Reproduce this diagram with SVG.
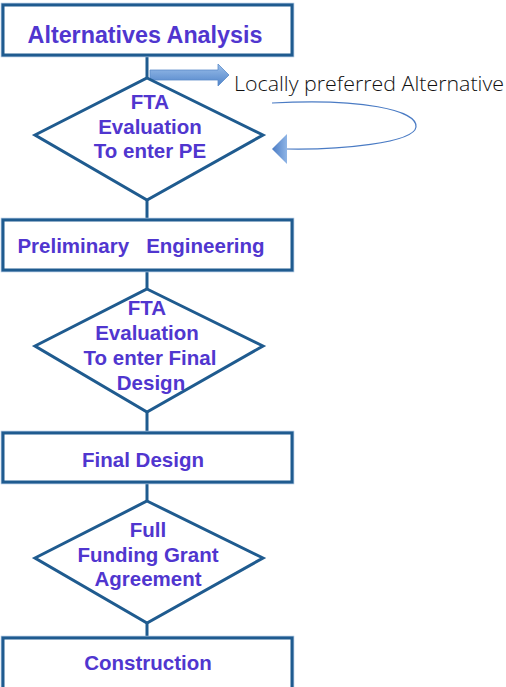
<svg xmlns="http://www.w3.org/2000/svg" width="506" height="687" viewBox="0 0 506 687">
  <defs>
    <style>
      .box { fill: #ffffff; stroke: #1f5b8f; stroke-width: 3; }
      .box-glow { fill: none; stroke: #a9c3de; stroke-width: 1.5; }
      .dia { fill: #ffffff; stroke: #1f5b8f; stroke-width: 3; stroke-linejoin: miter; }
      .link { stroke: #1f5b8f; stroke-width: 3; fill: none; }
      .lbl { font-family: "Liberation Sans", Arial, sans-serif; font-weight: bold; font-size: 20.5px; fill: #5036cf; text-anchor: middle; white-space: pre; }
      .note { font-family: "Open Sans", "DejaVu Sans", sans-serif; font-weight: 300; font-size: 20px; fill: #111111; }
    </style>
    <linearGradient id="arrowFill" x1="0" y1="0" x2="0" y2="1">
      <stop offset="0" stop-color="#9cc0ea"/>
      <stop offset="1" stop-color="#4f83c9"/>
    </linearGradient>
    <linearGradient id="headFill" x1="0" y1="0" x2="1" y2="0">
      <stop offset="0" stop-color="#4a7bc4"/>
      <stop offset="1" stop-color="#8fb5e6"/>
    </linearGradient>
  </defs>

  <!-- connectors -->
  <g id="connectors">
    <line class="link" x1="147" y1="55" x2="147" y2="78"/>
    <line class="link" x1="147" y1="200" x2="147" y2="221"/>
    <line class="link" x1="147" y1="270" x2="147" y2="289"/>
    <line class="link" x1="147" y1="412" x2="147" y2="433"/>
    <line class="link" x1="147" y1="482" x2="147" y2="501"/>
    <line class="link" x1="147" y1="623" x2="147" y2="638"/>
    <!-- block arrow toward the side note -->
    <path d="M150,70 L218,70 L218,64 L229,75 L218,86 L218,80 L150,80 Z" fill="url(#arrowFill)" stroke="#5b8cc9" stroke-width="0.8"/>
    <!-- return loop -->
    <path d="M272,103 C360,98 418,110 416,127 C414,143 340,150 286,149" fill="none" stroke="#4a7bc4" stroke-width="1.2"/>
    <path d="M272,149 L287,134 L287,164 Z" fill="url(#headFill)"/>
  </g>

  <text class="note" x="234" y="91" textLength="270" lengthAdjust="spacingAndGlyphs">Locally preferred Alternative</text>

  <g id="alternatives-analysis">
    <rect class="box-glow" x="1.5" y="3.5" width="292" height="53"/>
    <rect class="box" x="3" y="5" width="289" height="50"/>
    <text class="lbl" x="145" y="43" style="font-size:23.3px">Alternatives Analysis</text>
  </g>

  <g id="fta-eval-pe">
    <polygon class="dia" points="147,78 263,135 147,200 35,135"/>
    <text class="lbl" x="150" y="109">FTA</text>
    <text class="lbl" x="150" y="133.5">Evaluation</text>
    <text class="lbl" x="150" y="158">To enter PE</text>
  </g>

  <g id="preliminary-engineering">
    <rect class="box-glow" x="1.5" y="218.5" width="292" height="53"/>
    <rect class="box" x="3" y="220" width="289" height="50"/>
    <text class="lbl" x="141" y="253">Preliminary   Engineering</text>
  </g>

  <g id="fta-eval-fd">
    <polygon class="dia" points="147,289 263,346 147,412 35,346"/>
    <text class="lbl" x="147" y="315">FTA</text>
    <text class="lbl" x="147" y="340">Evaluation</text>
    <text class="lbl" x="150" y="365">To enter Final</text>
    <text class="lbl" x="151" y="390">Design</text>
  </g>

  <g id="final-design">
    <rect class="box-glow" x="1.5" y="431.5" width="292" height="52"/>
    <rect class="box" x="3" y="433" width="289" height="49"/>
    <text class="lbl" x="143" y="467">Final Design</text>
  </g>

  <g id="ffga">
    <polygon class="dia" points="147,501 263,558 147,623 35,558"/>
    <text class="lbl" x="148" y="537">Full</text>
    <text class="lbl" x="148" y="561.5">Funding Grant</text>
    <text class="lbl" x="148" y="586">Agreement</text>
  </g>

  <g id="construction">
    <rect class="box-glow" x="1.5" y="636.5" width="292" height="60"/>
    <rect class="box" x="3" y="638" width="289" height="57"/>
    <text class="lbl" x="148" y="669.5">Construction</text>
  </g>
</svg>
